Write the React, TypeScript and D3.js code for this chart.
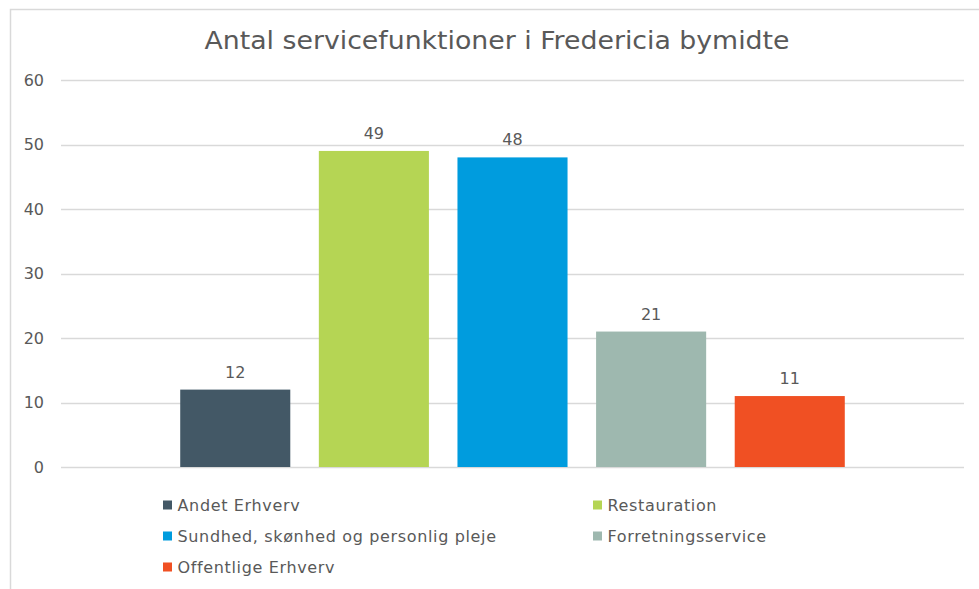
import * as React from "react";
import * as d3 from "d3";

const categories = [
    "Andet Erhverv",
    "Restauration",
    "Sundhed, skønhed og personlig pleje",
    "Forretningsservice",
    "Offentlige Erhverv",
];
const values = [12, 49, 48, 21, 11];
const colors = ["#435866", "#b5d554", "#009cde", "#9eb8af", "#f05023"];
const yTicks = [0, 10, 20, 30, 40, 50, 60];
const title = "Antal servicefunktioner i Fredericia bymidte";

const W = 979;
const H = 589;
const FONT = "'DejaVu Sans', Verdana, sans-serif";
const TEXT = "#595959";

const App: React.FC = () => {
    const svgRef = React.useRef<SVGSVGElement | null>(null);

    React.useEffect(() => {
        if (!svgRef.current) return;
        const svg = d3.select(svgRef.current);
        svg.selectAll("*").remove();

        // chart frame
        svg.append("rect")
            .attr("x", 10.5)
            .attr("y", 9.5)
            .attr("width", W + 20)
            .attr("height", H + 20)
            .attr("fill", "#fff")
            .attr("stroke", "#d9d9d9")
            .attr("stroke-width", 1.5);

        const x = d3.scaleBand<string>()
            .domain(categories)
            .range([61, 964])
            .paddingInner(0.206)
            .paddingOuter(0.86);

        const y = d3.scaleLinear().domain([0, 60]).range([467, 80]);

        // gridlines
        svg.append("g")
            .selectAll("line")
            .data(yTicks)
            .enter().append("line")
            .attr("x1", 61)
            .attr("x2", 964)
            .attr("y1", d => Math.round(y(d)) + 0.5)
            .attr("y2", d => Math.round(y(d)) + 0.5)
            .attr("stroke", "#d9d9d9")
            .attr("stroke-width", 1.5);

        // y labels
        svg.append("g")
            .selectAll("text")
            .data(yTicks)
            .enter().append("text")
            .attr("x", 44)
            .attr("y", d => y(d))
            .attr("dy", "0.36em")
            .attr("text-anchor", "end")
            .attr("font-family", FONT)
            .attr("font-size", 16)
            .attr("fill", TEXT)
            .text(d => d);

        const data = categories.map((c, i) => ({ name: c, value: values[i], color: colors[i] }));

        svg.append("g")
            .selectAll("rect")
            .data(data)
            .enter().append("rect")
            .attr("x", d => x(d.name)!)
            .attr("y", d => y(d.value))
            .attr("width", x.bandwidth())
            .attr("height", d => y(0) - y(d.value))
            .attr("fill", d => d.color);

        svg.append("g")
            .selectAll("text")
            .data(data)
            .enter().append("text")
            .attr("x", d => x(d.name)! + x.bandwidth() / 2)
            .attr("y", d => y(d.value) - 12)
            .attr("text-anchor", "middle")
            .attr("font-family", FONT)
            .attr("font-size", 16)
            .attr("fill", TEXT)
            .text(d => d.value);

        // title
        svg.append("text")
            .attr("x", 497)
            .attr("y", 49)
            .attr("text-anchor", "middle")
            .attr("font-family", FONT)
            .attr("font-size", 24)
            .attr("fill", TEXT)
            .attr("textLength", 585)
            .attr("lengthAdjust", "spacingAndGlyphs")
            .text(title);

        // legend, two columns
        const legend = svg.append("g")
            .selectAll("g")
            .data(data)
            .enter().append("g")
            .attr("transform", (d, i) => {
                const col = i % 2;
                const row = Math.floor(i / 2);
                return `translate(${col === 0 ? 163 : 593},${510.5 + row * 31})`;
            });

        legend.append("rect")
            .attr("x", 0)
            .attr("y", -10)
            .attr("width", 9)
            .attr("height", 9)
            .attr("fill", d => d.color);

        legend.append("text")
            .attr("x", 14.5)
            .attr("y", 0)
            .attr("font-family", FONT)
            .attr("font-size", 16)
            .attr("letter-spacing", 0.65)
            .attr("fill", TEXT)
            .text(d => d.name);
    }, []);

    return (
        <svg
            ref={svgRef}
            width={W}
            height={H}
            style={{ position: "absolute", left: 0, top: 0, background: "#fff" }}
        />
    );
};

export default App;
